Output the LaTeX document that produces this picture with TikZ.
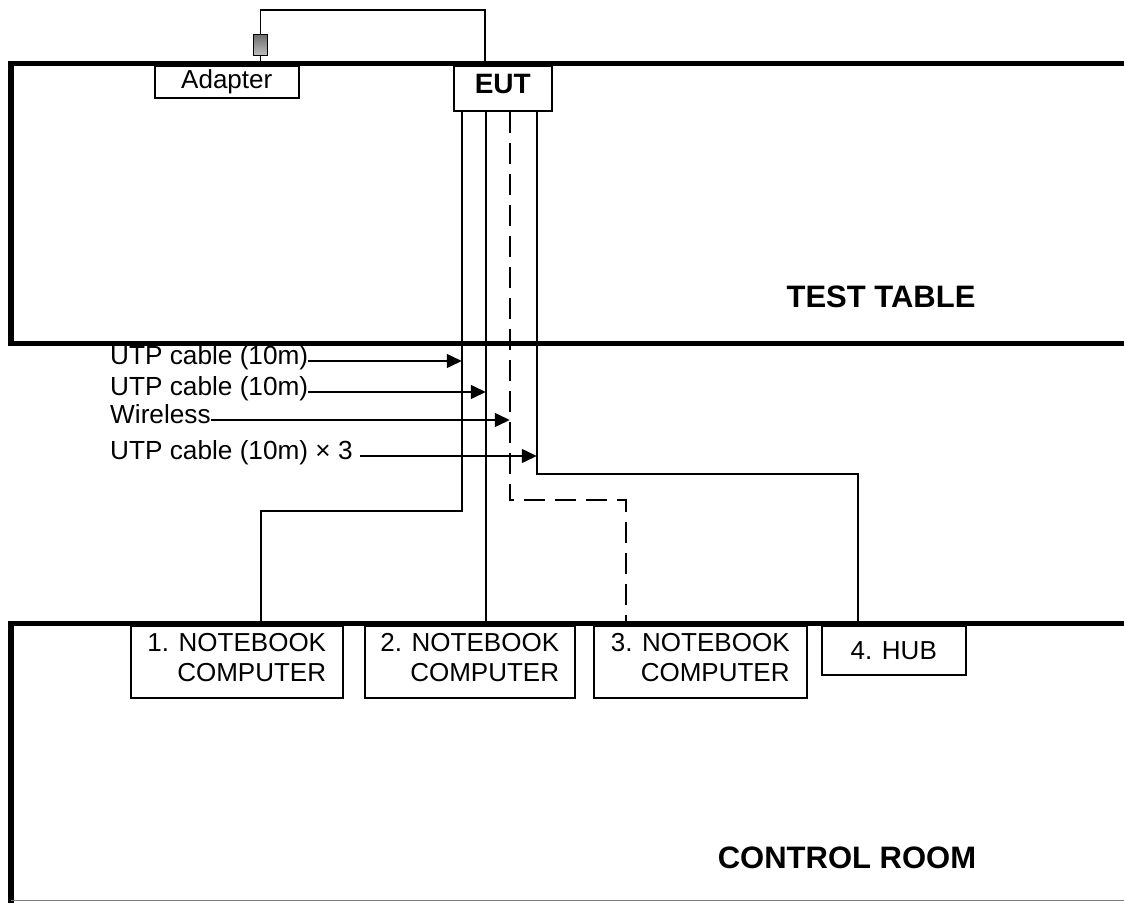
\documentclass[tikz,border=0pt]{standalone}
\usepackage{fontspec}
\setmainfont{Liberation Sans}
\usetikzlibrary{arrows.meta, positioning}
\tikzset{
  wall/.style={line width=5.5pt, line join=miter},
  cable/.style={line width=1.5pt},
  wifi/.style={cable, dash pattern=on 21pt off 10pt},
  unit/.style={rectangle, draw, line width=1.5pt, inner sep=0pt, anchor=north west,
               font=\fontsize{26}{30}\selectfont},
  nbook/.style={unit, minimum height=72pt, align=right, text depth=8pt},
  lbl/.style={inner sep=0pt, anchor=west, text height=0.72em, text depth=0pt,
              font=\fontsize{26.2}{30}\selectfont},
  feed/.style={-{Triangle[length=15pt, width=14pt]}, line width=1.5pt},
  room/.style={anchor=base, font=\fontsize{31}{36}\selectfont\bfseries},
}
\begin{document}
\begin{tikzpicture}[x=1pt, y=-1pt]
  \useasboundingbox (0,0) rectangle (1124,902);
  % rooms
  \draw[wall] (1124,63.5) -- (11,63.5) -- (11,343.5) -- (1124,343.5);
  \draw[wall] (1124,623.5) -- (11,623.5) -- (11,905);
  \draw[gray, line width=1pt] (11,900.5) -- (1124,900.5);
  \node[room] (table) at (881,307) {TEST TABLE};
  \node[room] (ctrl) at (847,868) {CONTROL ROOM};

  % devices
  \node[unit, minimum width=144pt, minimum height=32pt] (adapter) at (154,65) {Adapter};
  \node[unit, minimum width=98pt, minimum height=45pt, text height=1.04em,
        font=\fontsize{28}{32}\selectfont\bfseries] (eut) at (453,65) {EUT};
  \node[draw, line width=1pt, inner sep=0pt, minimum width=14pt, minimum height=21pt,
        top color=gray!85!black, bottom color=gray!50, anchor=north west] (plug) at (253,34) {};
  \node[nbook, minimum width=212pt] (nb1) at (130,625) {1. NOTEBOOK\\COMPUTER};
  \node[nbook, minimum width=210pt] (nb2) at (364,625) {2. NOTEBOOK\\COMPUTER};
  \node[nbook, minimum width=213pt] (nb3) at (593,625) {3. NOTEBOOK\\COMPUTER};
  \node[unit, minimum width=144pt, minimum height=49pt] (hub) at (821,625) {4. HUB};

  % cable points
  \coordinate (pw) at (485,10);
  \coordinate (c1) at ([xshift=-41pt]eut.south);
  \coordinate (c2) at ([xshift=-17pt]eut.south);
  \coordinate (c3) at ([xshift=7pt]eut.south);
  \coordinate (c4) at ([xshift=34pt]eut.south);
  \coordinate (k1) at (261,511);
  \coordinate (k3) at (626,500);
  \coordinate (k4) at (858,474);

  % cables
  \draw[cable] (plug.south) -- (plug.south |- adapter.north);
  \draw[cable] (plug.north) |- (pw) -- (pw |- eut.north);
  \draw[cable] (c1) |- (k1) -- (k1 |- nb1.north);
  \draw[cable] (c2) -- (c2 |- nb2.north);
  \draw[wifi] (c3) |- (k3) -- (k3 |- nb3.north);
  \draw[cable] (c4) |- (k4) -- (k4 |- hub.north);

  % labels
  \node[lbl] (utp1) at (110,361) {UTP cable (10m)};
  \node[lbl] (utp2) at (110,392) {UTP cable (10m)};
  \node[lbl] (wls) at (110,420) {Wireless};
  \node[lbl] (utp3) at (110,456) {UTP cable (10m) × 3};
  \draw[feed] (utp1.east) -- (utp1.east -| c1);
  \draw[feed] (utp2.east) -- (utp2.east -| c2);
  \draw[feed] (wls.east) -- (wls.east -| c3);
  \draw[feed] ([xshift=7pt]utp3.east) -- (utp3.east -| c4);
\end{tikzpicture}
\end{document}
